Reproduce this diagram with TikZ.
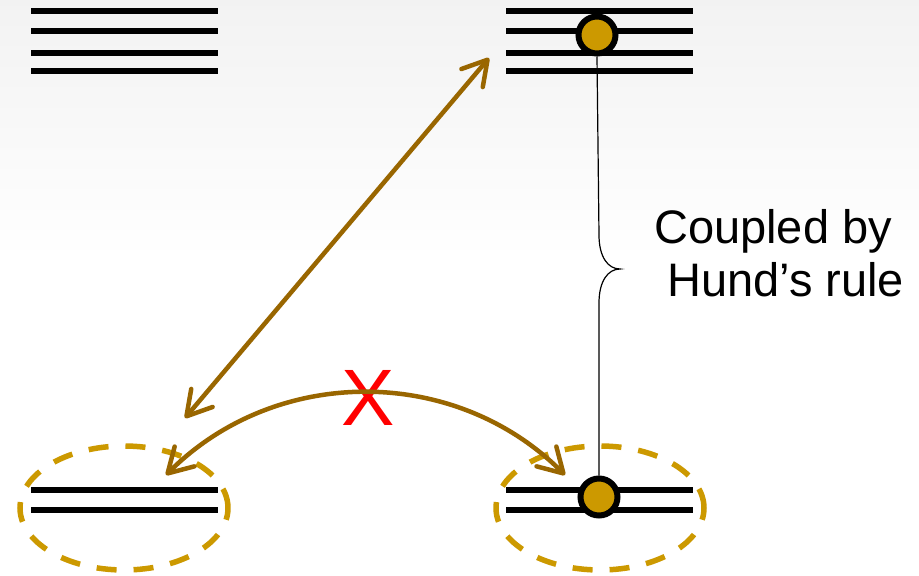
\documentclass[tikz,border=0pt]{standalone}
\usepackage{fontspec}
\setmainfont{Liberation Sans}
\usetikzlibrary{arrows.meta,shapes.geometric,calc}
\definecolor{dotgold}{HTML}{CC9900}
\definecolor{arrowbrown}{HTML}{996600}
\begin{document}
\begin{tikzpicture}[x=1pt,y=-1pt,
	level/.style={line width=6.5pt},
	electron/.style={circle, draw=black, line width=6pt, fill=dotgold, minimum size=37pt, inner sep=0pt},
	group/.style={ellipse, draw=dotgold, line width=5.5pt, dash pattern=on 20pt off 17pt, minimum width=208pt, minimum height=124pt, inner sep=0pt},
	link/.style={draw=arrowbrown, line width=4.5pt, {Straight Barb[length=24pt,width=28pt,round]}-{Straight Barb[length=24pt,width=28pt,round]}},
	label/.style={font=\fontsize{47}{53}\selectfont, align=left, inner sep=0pt}]
	
	%Background
	\fill[white] (0,0) rectangle (919,576);
	\shade[top color=black!5, bottom color=white] (0,0) rectangle (919,260);
	\useasboundingbox (0,0) rectangle (919,576);
	
	%Levels
	\foreach \y in {11,31,53,71} {
		\draw[level] (31,\y) -- (218,\y);
		\draw[level] (506,\y) -- (693,\y);
	}
	\foreach \y in {490,510} {
		\draw[level] (31,\y) -- (218,\y);
		\draw[level] (506,\y) -- (693,\y);
	}
	
	%Nodes
	\node[group]	(leftgroup)	at (124,508)	{};
	\node[group]	(rightgroup)	at (600,508)	{};
	\node[electron]	(upper)	at (597,35)	{};
	\node[electron]	(lower)	at (599,497)	{};
	\node[font=\fontsize{80}{80}\selectfont, text=red, anchor=base, inner sep=0pt]	(cross)	at (368,425)	{X};
	\node[label, anchor=north west]	(hund)	at (654,209)	{Coupled by\\\hspace*{13pt}Hund’s rule};
	
	%Coordinates
	\coordinate (diagstart)	at (185,418);
	\coordinate (diagend)	at (489,58);
	\coordinate (arcstart)	at (166,475);
	\coordinate (arcend)	at (565,475);
	\coordinate (bracetip)	at (620,269);
	
	%Lines
	\draw[link] (diagstart) -- (diagend);
	\draw[link] (arcstart) to[bend left=45] (arcend);
	\draw[line width=1.2pt] (upper.south) -- ($(bracetip)+(-21,-34)$) .. controls +(0,22) and +(-12,0) .. (bracetip) .. controls +(-12,0) and +(0,-22) .. ($(bracetip)+(-21,34)$) -- (lower.north);
\end{tikzpicture}
\end{document}
